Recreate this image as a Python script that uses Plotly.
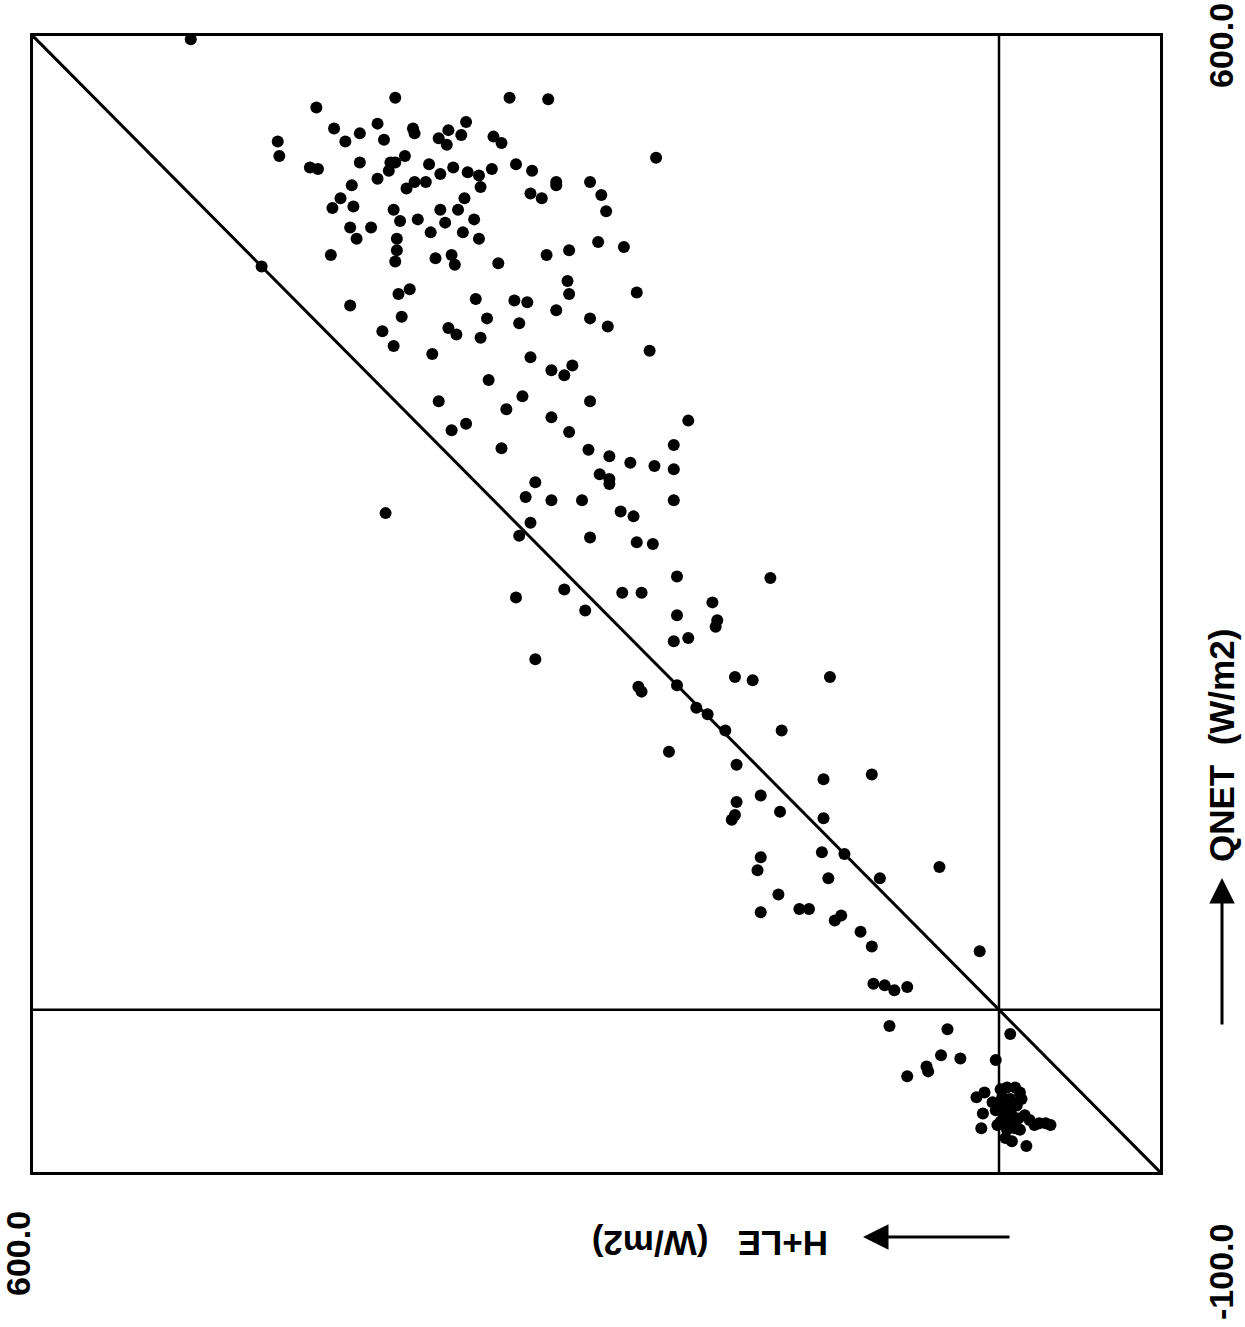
import plotly.graph_objects as go

# Axis range (W/m2)
axis_range = [-100, 600]

# H+LE (W/m2) and QNET (W/m2)
H_LE = [502, 375, 424, 413, 386, 397, 364, 363, 331, 342, 334, 348, 343, 314, 448, 447, 406, 382,
        428, 423, 397, 378, 375, 379, 369, 354, 339, 315, 330, 323, 347, 356, 363, 368, 386, 402,
        322, 409, 414, 401, 332, 376, 347, 336, 372, 361, 344, 326, 403, 390, 399, 374, 374, 353,
        333, 323, 415, 375, 350, 340, 338, 311, 458, 373, 366, 403, 325, 371, 318,
        304, 280, 309, 213, 300, 290, 275, 275, 254, 247, 244, 291, 284, 281, 267, 249, 233, 268,
        267, 225, 301, 293, 275, 254,
        298, 243, 383, 342, 337, 322, 376, 352, 217, 291, 278, 265, 270, 317, 296, 348, 306, 254,
        278, 193, 340, 331, 267, 309, 202, 255, 242, 229, 214, 202, 248, 242, 242, 288, 294, 278,
        259, 202, 381, 235, 227, 291, 298, 254, 225, 215, 200, 270, 234, 222, 300,
        142, 257, 178, 200, 175, 176, 202, 193, 164, 153, 105, 288,
        224, 222, 200, 188, 181, 170, 135, 205, 163, 109, 79, 148, 163, 164, 166, 136, 109, 110,
        96, 148, 150, 106, 74, 37, 137, 148, 124, 118, 102, 98, 86,
        79, 12, 78, 71, 65, 57, 68, 32,
        -7, 36, 24, 2, 45, 44, 57,
        14, 9, 10, 11, -1, -5, -10, -13, -14, -2, -7, -1, -6, -11, -8, -3, 2, 4, -1, -7, -12, -16,
        -19, -22, -25, -29, -32, -5, -4, -8, -17, 1, -10, -13]

QNET = [598, 562, 556, 543, 546, 540, 543, 540, 547, 542, 539, 537, 533, 538, 535, 526, 535, 536,
        519, 518, 522, 522, 522, 517, 526, 521, 519, 518, 516, 514, 515, 510, 510, 506, 512, 508,
        507, 500, 494, 495, 500, 493, 493, 493, 486, 487, 485, 487, 482, 482, 475, 475, 468, 479,
        479, 475, 465, 461, 463, 465, 459, 460, 458, 441, 444, 434, 438, 427, 426,
        562, 561, 534, 525, 521, 517, 510, 508, 510, 502, 492, 503, 500, 465, 468, 473, 470, 449,
        441, 442, 437, 436, 431, 426,
        423, 421, 418, 420, 416, 414, 409, 404, 406, 402, 394, 397, 391, 388, 378, 375, 370, 375,
        365, 363, 357, 361, 356, 346, 348, 345, 341, 337, 335, 333, 330, 327, 324, 325, 316, 314,
        314, 314, 306, 307, 304, 300, 292, 291, 288, 287, 267, 259, 257, 257, 254,
        266, 246, 251, 243, 240, 236, 227, 229, 205, 203, 205, 216,
        199, 196, 200, 186, 182, 172, 172, 159, 151, 142, 145, 132, 128, 120, 117, 122, 118, 97,
        96, 94, 86, 81, 81, 88, 71, 60, 62, 62, 55, 58, 48,
        39, 36, 16, 15, 12, 14, -10, -12,
        -15, -28, -30, -31, -35, -38, -41,
        -54, -51, -64, -73, -49, -48, -48, -51, -55, -54, -55, -59, -60, -59, -65, -65, -62, -57,
        -69, -69, -67, -65, -68, -71, -70, -70, -71, -74, -79, -81, -84, -71, -73, -74]

x_title = "H+LE   (W/m2)"
y_title = "QNET  (W/m2)"
tick_max = "600.0"
tick_min = "-100.0"

W, H = 1245, 1327
L, R, T, B = 33, 85, 36, 155
pw, ph = W - L - R, H - T - B


def px(x):
    return (x - L) / pw


def py(y):
    return (H - B - y) / ph


fig = go.Figure()

# 1:1 line and zero lines
fig.add_trace(go.Scatter(x=[axis_range[1], axis_range[0]], y=[axis_range[1], axis_range[0]],
                         mode="lines", line=dict(color="black", width=3), hoverinfo="skip"))
fig.add_trace(go.Scatter(x=[0, 0], y=axis_range, mode="lines",
                         line=dict(color="black", width=2.5), hoverinfo="skip"))
fig.add_trace(go.Scatter(x=axis_range, y=[0, 0], mode="lines",
                         line=dict(color="black", width=2.5), hoverinfo="skip"))

fig.add_trace(go.Scatter(x=H_LE, y=QNET, mode="markers",
                         marker=dict(color="black", size=12, symbol="circle",
                                     line=dict(width=0)),
                         cliponaxis=False))

font_t = dict(family="Liberation Sans, Arial, sans-serif", size=34, color="black")
font_a = dict(family="Liberation Sans, Arial, sans-serif", size=35, color="black")

ann = []
ann.append(dict(text="<b>" + tick_max + "</b>", x=px(1221), y=py(45), textangle=-90, font=font_t))
ann.append(dict(text="<b>" + tick_min + "</b>", x=px(1221), y=py(1272), textangle=-90, font=font_t))
ann.append(dict(text="<b>" + tick_max + "</b>", x=px(18), y=py(1254), textangle=-90, font=font_t))
ann.append(dict(text="<b>" + y_title + "</b>", x=px(1221), y=py(745), textangle=-90, font=font_a))
ann.append(dict(text="<b>" + x_title + "</b>", x=px(710), y=py(1244), textangle=180, font=font_a))
for a in ann:
    a.update(xref="paper", yref="paper", showarrow=False,
             xanchor="center", yanchor="middle")
# arrows
ann.append(dict(text="", x=px(1222), y=py(878), xref="paper", yref="paper",
                showarrow=True, ax=0, ay=148, arrowhead=2, arrowsize=1.7,
                arrowwidth=3, arrowcolor="black"))
ann.append(dict(text="", x=px(863), y=py(1237), xref="paper", yref="paper",
                showarrow=True, ax=148, ay=0, arrowhead=2, arrowsize=1.7,
                arrowwidth=3, arrowcolor="black"))

fig.update_layout(
    width=W, height=H, autosize=False,
    margin=dict(l=L, r=R, t=T, b=B, pad=0),
    paper_bgcolor="white", plot_bgcolor="white",
    showlegend=False,
    annotations=ann,
    xaxis=dict(range=[axis_range[1], axis_range[0]], showgrid=False, zeroline=False,
               showticklabels=False, ticks="", showline=True, mirror=True,
               linecolor="black", linewidth=3),
    yaxis=dict(range=axis_range, showgrid=False, zeroline=False,
               showticklabels=False, ticks="", showline=True, mirror=True,
               linecolor="black", linewidth=3),
)

fig.write_html("out.html",
               config={"displayModeBar": False},
               post_script="document.body.style.margin='0px';"
                           "document.body.style.overflow='hidden';")
